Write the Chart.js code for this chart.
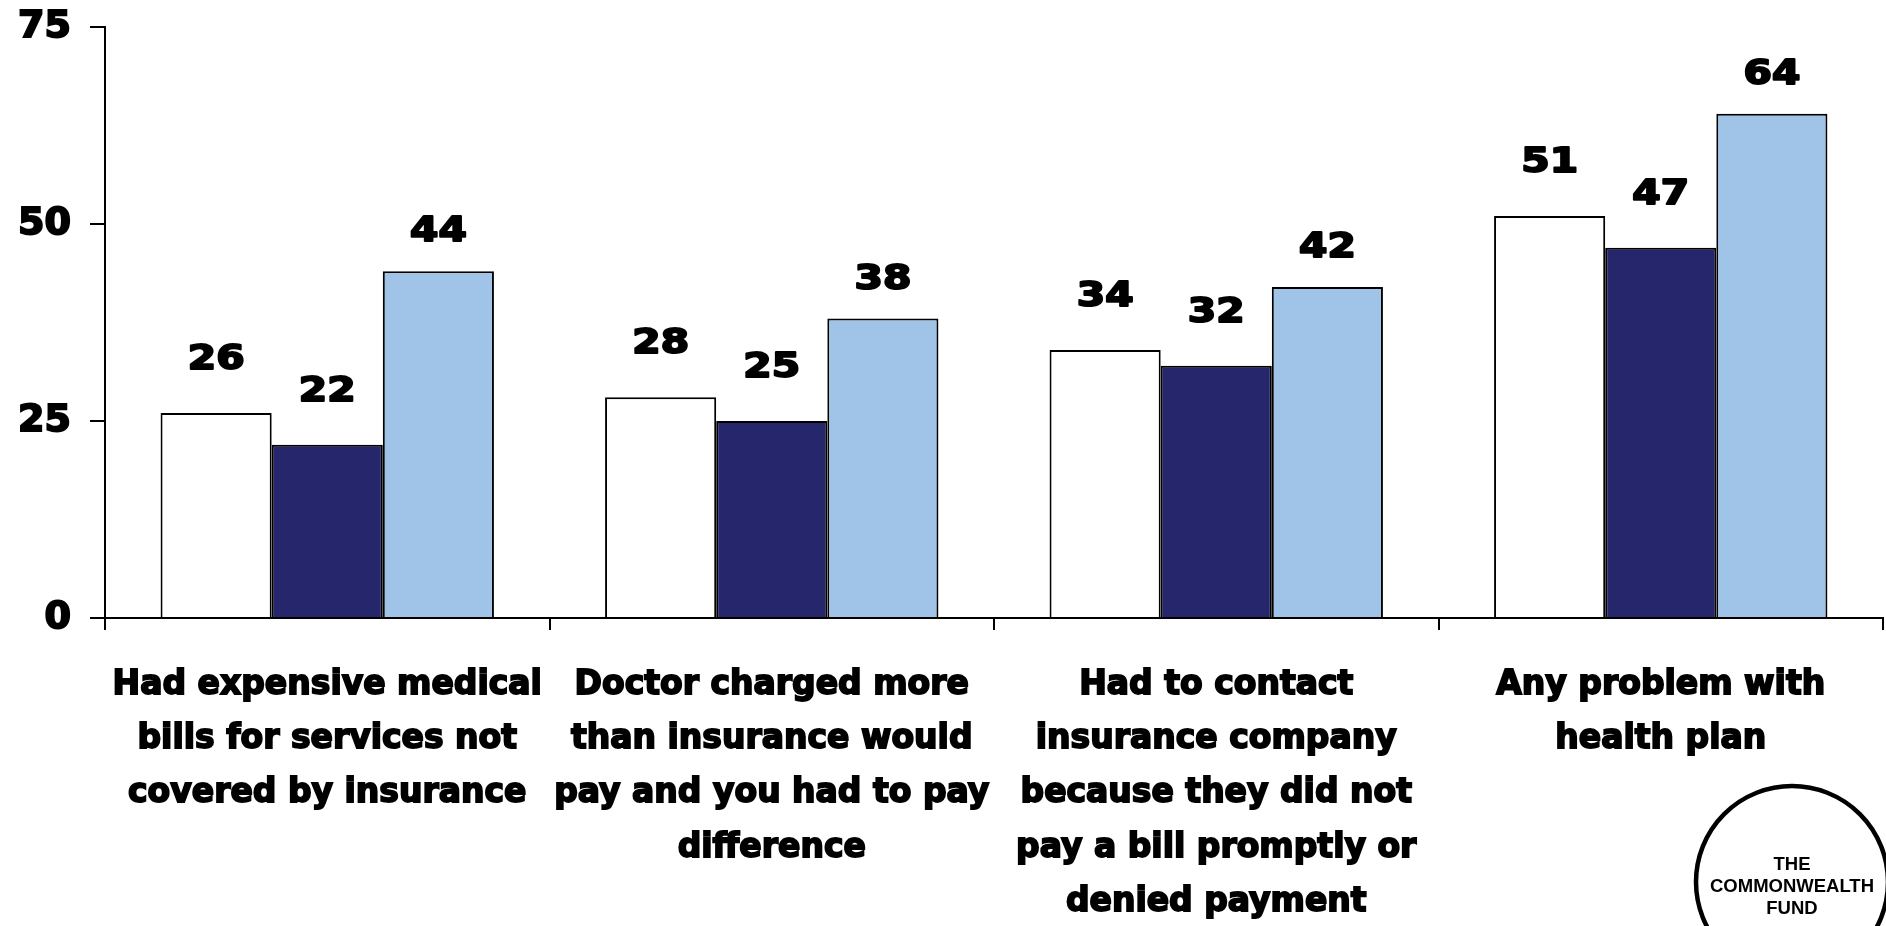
<!DOCTYPE html>
<html>
<head>
<meta charset="utf-8">
<script src="https://cdn.jsdelivr.net/npm/chart.js@4/dist/chart.umd.min.js"></script>
<style>
  html, body { margin: 0; padding: 0; background: #ffffff; }
  #chart { display: block; }
</style>
</head>
<body>
<canvas id="chart" width="1886" height="926"></canvas>
<script>
// Problems reported with health insurance, percent of adults
const categories = [
  ["Had expensive medical", "bills for services not", "covered by insurance"],
  ["Doctor charged more", "than insurance would", "pay and you had to pay", "difference"],
  ["Had to contact", "insurance company", "because they did not", "pay a bill promptly or", "denied payment"],
  ["Any problem with", "health plan"]
];
const groupOne = [26, 28, 34, 51];
const groupTwo = [22, 25, 32, 47];
const groupThree = [44, 38, 42, 64];
const yTicks = [0, 25, 50, 75];

const fillColors = ["#ffffff", "#26266c", "#9fc4e8"];
const labelLift = [44, 44, 30]; // baseline distance above each bar top

const FONT = "'DejaVu Sans', sans-serif";

// Value labels above each bar, read from the bar elements
const valueLabels = {
  id: "valueLabels",
  afterDatasetsDraw(chart) {
    const ctx = chart.ctx;
    ctx.save();
    ctx.fillStyle = "#000";
    ctx.strokeStyle = "#000";
    ctx.lineWidth = 2;
    ctx.lineJoin = "round";
    ctx.font = "bold 34px " + FONT;
    ctx.textAlign = "center";
    ctx.textBaseline = "alphabetic";
    chart.data.datasets.forEach((ds, di) => {
      const meta = chart.getDatasetMeta(di);
      meta.data.forEach((bar, i) => {
        const txt = String(ds.data[i]);
        ctx.save();
        ctx.translate(bar.x, bar.y - labelLift[di]);
        ctx.scale(1.2, 1);
        ctx.strokeText(txt, 0, 0);
        ctx.fillText(txt, 0, 0);
        ctx.restore();
      });
    });
    ctx.restore();
  }
};

// Round publisher badge in the lower right corner
const badge = {
  id: "badge",
  afterDraw(chart) {
    const ctx = chart.ctx;
    ctx.save();
    ctx.beginPath();
    ctx.arc(1792, 882, 96, 0, Math.PI * 2);
    ctx.lineWidth = 4.5;
    ctx.strokeStyle = "#000";
    ctx.stroke();
    ctx.fillStyle = "#000";
    ctx.font = "bold 18.5px 'Liberation Sans', Arial, sans-serif";
    ctx.textAlign = "center";
    ctx.textBaseline = "middle";
    ctx.fillText("THE", 1792, 865);
    ctx.fillText("COMMONWEALTH", 1792, 887);
    ctx.fillText("FUND", 1792, 909);
    ctx.restore();
  }
};

const datasets = [groupOne, groupTwo, groupThree].map((values, k) => ({
  label: "Group " + (k + 1),
  data: values,
  backgroundColor: fillColors[k],
  borderColor: "#000",
  borderWidth: 2,
  categoryPercentage: 0.75,
  barPercentage: 1.0
}));

new Chart(document.getElementById("chart"), {
  type: "bar",
  data: { labels: categories, datasets: datasets },
  options: {
    responsive: false,
    animation: false,
    devicePixelRatio: 1,
    layout: { padding: { top: 27, right: 3, left: 0, bottom: 0 } },
    plugins: {
      legend: { display: false },
      tooltip: { enabled: false },
      title: { display: false }
    },
    scales: {
      x: {
        z: 1,
        border: { display: true, color: "#000", width: 2 },
        grid: {
          display: true,
          drawOnChartArea: false,
          drawTicks: true,
          tickLength: 12,
          color: "#000",
          lineWidth: 2,
          offset: true
        },
        ticks: {
          autoSkip: false,
          maxRotation: 0,
          minRotation: 0,
          padding: 28,
          color: "#000",
          textStrokeColor: "#000",
          textStrokeWidth: 1.8,
          font: { family: FONT, size: 33, weight: "bold", lineHeight: 1.645 }
        },
        afterFit(scale) {
          scale.height = 308;
          scale.paddingLeft = 0;
          scale.paddingRight = 0;
        }
      },
      y: {
        z: 1,
        min: 0,
        max: 75,
        afterBuildTicks(scale) { scale.ticks = yTicks.map(v => ({ value: v })); },
        border: { display: true, color: "#000", width: 2 },
        grid: {
          display: true,
          drawOnChartArea: false,
          drawTicks: true,
          tickLength: 15,
          color: "#000",
          lineWidth: 2
        },
        ticks: {
          padding: 19,
          color: "#000",
          textStrokeColor: "#000",
          textStrokeWidth: 2,
          font: { family: FONT, size: 38, weight: "bold" }
        },
        afterFit(scale) {
          scale.width = 105;
          scale.paddingTop = 0;
          scale.paddingBottom = 0;
        }
      }
    }
  },
  plugins: [valueLabels, badge]
});
</script>
</body>
</html>
